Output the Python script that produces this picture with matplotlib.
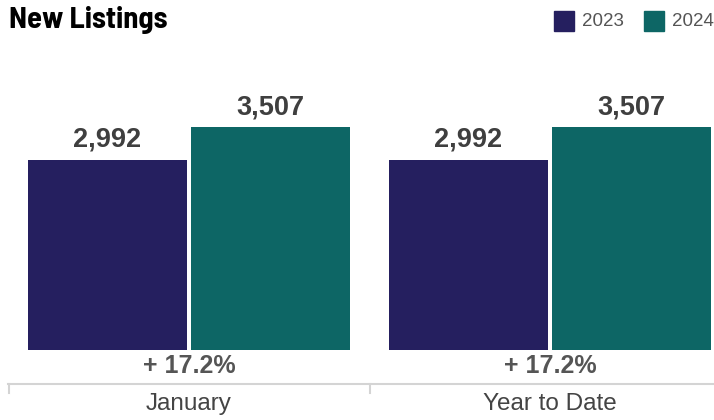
import matplotlib
matplotlib.use("Agg")
import matplotlib.pyplot as plt
from matplotlib.patches import Rectangle

# ── Data ──────────────────────────────────────────────────────────────────────
categories = ["January", "Year to Date"]
years = ["2023", "2024"]
values_2023 = [2992, 2992]
values_2024 = [3507, 3507]
changes = ["+ 17.2%", "+ 17.2%"]

COLORS = ["#251f5f", "#0d6665"]
TITLE_FONT = ["Barlow Semi Condensed", "Roboto Condensed", "DejaVu Sans"]
SANS = ["Liberation Sans", "DejaVu Sans"]
W, H = 714, 420

# ── Figure ────────────────────────────────────────────────────────────────────
fig = plt.figure(figsize=(W / 100, H / 100), dpi=100)
# main axes: bottom at y=350px, top at y=40px (from top)
ax = fig.add_axes([0, (H - 350) / H, 1, 310 / H])

group_px = 361
x0_px = 189
bar_w = 159 / group_px
off = 163 / 2 / group_px
xs = list(range(len(categories)))

ax.bar([x - off for x in xs], values_2023, width=bar_w, color=COLORS[0])
ax.bar([x + off for x in xs], values_2024, width=bar_w, color=COLORS[1])

ymax = 3507 * 310 / 223
ax.set_xlim(-x0_px / group_px, (W - x0_px) / group_px)
ax.set_ylim(0, ymax)
ax.axis("off")

# value labels
for x, v1, v2 in zip(xs, values_2023, values_2024):
    for xx, v in [(x - off, v1), (x + off, v2)]:
        ax.annotate(f"{v:,}", (xx, v), xytext=(0, 5), textcoords="offset points",
                    ha="center", va="bottom", fontsize=19.5, fontweight="bold",
                    color="#3f3f3f", family=SANS)

tr = ax.get_xaxis_transform()
# percent change and category labels
for x, c, cat in zip(xs, changes, categories):
    ax.text(x, (350 - 366) / 310, c, transform=tr, ha="center", va="center",
            fontsize=18, fontweight="bold", color="#555555", family=SANS)
    ax.text(x, (350 - 404) / 310, cat, transform=tr, ha="center", va="center",
            fontsize=17.5, color="#444444", family=SANS)

# category axis line and ticks
y_axis = (350 - 384) / 310
y_tick = (350 - 393) / 310
ax.plot([(8 - x0_px) / group_px, (W - x0_px) / group_px], [y_axis, y_axis],
        transform=tr, color="#d4d4d4", lw=1.5, clip_on=False)
for x in [-0.5, 0.5]:
    ax.plot([x, x], [y_axis, y_tick], transform=tr, color="#d4d4d4", lw=1.5, clip_on=False)

# title
fig.text(9 / W, 1 - 20 / H, "New Listings", ha="left", va="center",
         fontsize=22, fontweight="bold", color="#000000", family=TITLE_FONT)

# legend
for i, (yr, col) in enumerate(zip(years, COLORS)):
    sx = 554 + i * 90
    fig.patches.append(Rectangle((sx / W, 1 - 31 / H), 20 / W, 20 / H,
                                 transform=fig.transFigure, color=col))
    fig.text((sx + 28) / W, 1 - 21 / H, yr, ha="left", va="center",
             fontsize=13.5, color="#555555", family=SANS)

fig.savefig("out.png", dpi=100)
